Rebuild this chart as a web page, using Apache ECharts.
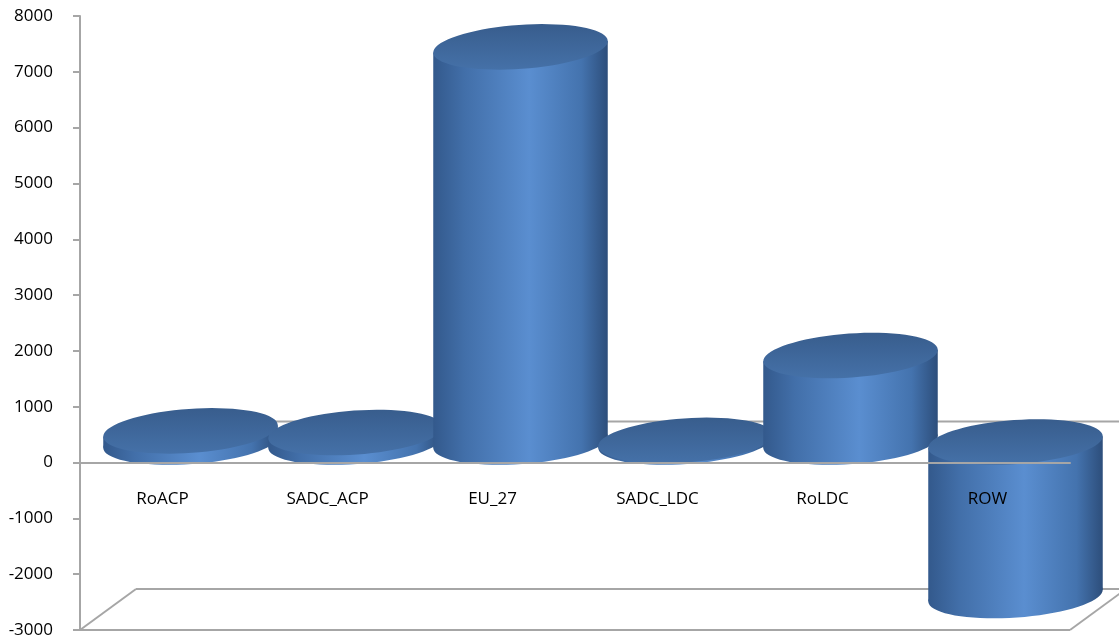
<!DOCTYPE html>
<html>
<head>
<meta charset="utf-8">
<script src="https://cdn.jsdelivr.net/npm/echarts@6/dist/echarts.min.js"></script>
<style>
  html, body { margin: 0; padding: 0; background: #fff; }
  #chart { width: 1119px; height: 640px; }
</style>
</head>
<body>
<div id="chart"></div>
<script>
// categories and values
const categories = ['RoACP', 'SADC_ACP', 'EU_27', 'SADC_LDC', 'RoLDC', 'ROW'];
const values = [200, 170, 7080, 30, 1550, -2750];
const yMinVal = -3000, yMaxVal = 8000, yStep = 1000;

// 3D depth of the floor (pixels), cylinders stand halfway in
const DX = 56, DY = -41;
const TILT = 0.07;
const lineColor = '#a6a6a6';
const gridTop = 16, gridBottom = 10;
const plotH = 640 - gridTop - gridBottom;
// pixel distance from the bottom of the plot up to the zero line
const zeroOffset = plotH * (0 - yMinVal) / (yMaxVal - yMinVal);

function ellipsePts(cx, cy, rx, ry) {
    const pts = [];
    const c = Math.cos(TILT), s = Math.sin(TILT);
    for (let i = 0; i < 72; i++) {
        const t = i / 72 * Math.PI * 2;
        const X = rx * Math.cos(t), Y = ry * Math.sin(t);
        pts.push([cx + X * c + Y * s, cy - X * s + Y * c]);
    }
    return pts;
}
function extremes(cx, cy, rx, ry) {
    const c = Math.cos(TILT), s = Math.sin(TILT);
    const t0 = Math.atan2(ry * s, rx * c);
    const p = t => {
        const X = rx * Math.cos(t), Y = ry * Math.sin(t);
        return [cx + X * c + Y * s, cy - X * s + Y * c];
    };
    const a = p(t0), b = p(t0 + Math.PI);
    return a[0] < b[0] ? [a, b] : [b, a];
}

const bodyFill = () => new echarts.graphic.LinearGradient(0, 0, 1, 0, [
    { offset: 0, color: '#33598c' },
    { offset: 0.18, color: '#426fa9' },
    { offset: 0.55, color: '#5a8ed0' },
    { offset: 0.85, color: '#4473ae' },
    { offset: 1, color: '#2d4e7b' }
]);
const topFill = () => new echarts.graphic.LinearGradient(0, 0, 0, 1, [
    { offset: 0, color: '#385d8d' },
    { offset: 1, color: '#4571a8' }
]);

const chart = echarts.init(document.getElementById('chart'));
chart.setOption({
    animation: false,
    grid: { left: 80, right: 49, top: gridTop, bottom: gridBottom, containLabel: false, outerBoundsMode: 'none' },
    xAxis: {
        type: 'category',
        data: categories,
        position: 'bottom',
        offset: -zeroOffset,
        z: 5,
        axisLine: { onZero: false, lineStyle: { color: lineColor, width: 2 } },
        axisTick: { show: false },
        axisLabel: {
            margin: 28,
            color: '#000',
            fontFamily: 'Open Sans',
            fontSize: 17
        }
    },
    yAxis: {
        type: 'value',
        min: yMinVal,
        max: yMaxVal,
        interval: yStep,
        splitLine: { show: false },
        axisLine: { show: true, lineStyle: { color: lineColor, width: 2 } },
        axisTick: { show: true, length: 7, lineStyle: { color: lineColor, width: 2 } },
        axisLabel: {
            margin: 27,
            color: '#000',
            fontFamily: 'Open Sans',
            fontSize: 17,
            formatter: v => String(v)
        }
    },
    series: [{
        type: 'custom',
        z: 3,
        data: values.map((v, i) => [i, v]),
        renderItem: function (params, api) {
            const idx = api.value(0), v = api.value(1);
            const base = api.coord([idx, 0]);
            const end = api.coord([idx, v]);
            const band = api.size([1, 0])[0];
            const rx = band * 0.53, ry = 22;
            const cx = base[0] + DX / 2;
            const y1 = base[1] + DY / 2, y2 = end[1] + DY / 2;
            const yTop = Math.min(y1, y2), yBot = Math.max(y1, y2);
            const et = extremes(cx, yTop, rx, ry);
            const eb = extremes(cx, yBot, rx, ry);
            return {
                type: 'group',
                children: [
                    { type: 'polygon', shape: { points: ellipsePts(cx, yBot, rx, ry) }, style: { fill: bodyFill() } },
                    { type: 'polygon', shape: { points: [et[0], et[1], eb[1], eb[0]] }, style: { fill: bodyFill() } },
                    { type: 'polygon', shape: { points: ellipsePts(cx, yTop, rx, ry) }, style: { fill: topFill() } }
                ]
            };
        }
    }]
});

// floor frame of the 3D plot
const y0 = chart.convertToPixel({ yAxisIndex: 0 }, 0);
const yMin = chart.convertToPixel({ yAxisIndex: 0 }, yMinVal);
const xL = 80, xR = 1119 - 49;
const ln = (a, b, z) => ({
    type: 'line', z: z,
    shape: { x1: a[0], y1: a[1], x2: b[0], y2: b[1] },
    style: { stroke: lineColor, lineWidth: 2 }
});
chart.setOption({
    graphic: [
        ln([xL + DX, y0 + DY], [xR + DX, y0 + DY], 1),
        ln([xL + DX, yMin + DY], [xR + DX, yMin + DY], 1),
        ln([xL, yMin], [xL + DX, yMin + DY], 1),
        ln([xL, yMin], [xR, yMin], 1),
        ln([xR, yMin], [xR + DX, yMin + DY], 1)
    ]
});
</script>
</body>
</html>
